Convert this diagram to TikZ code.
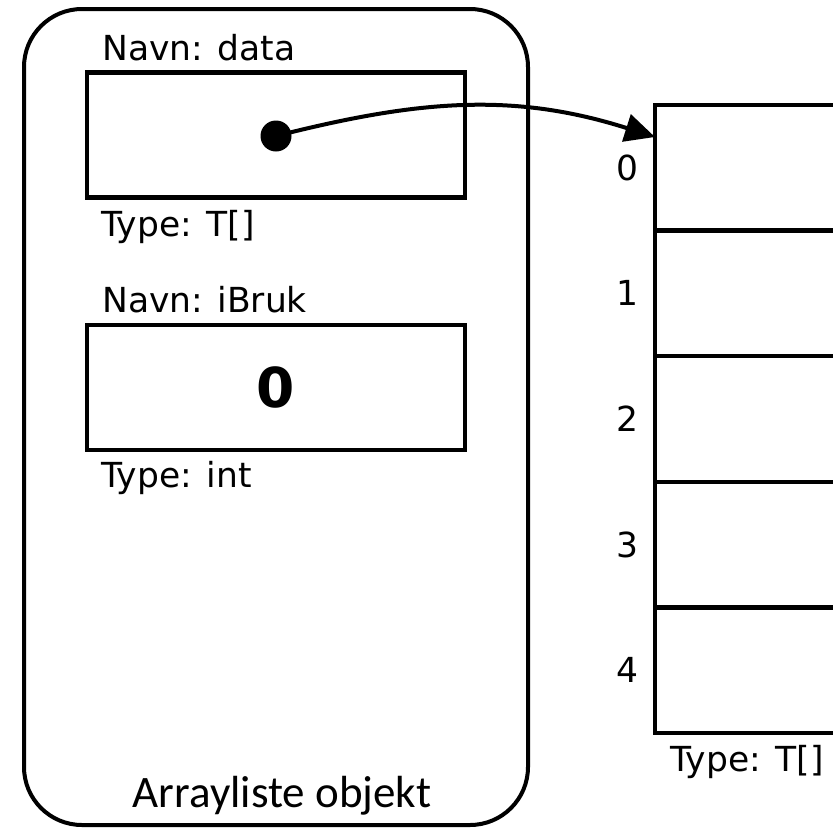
\documentclass[tikz,border=0pt]{standalone}
\usepackage{fontspec}
\setmainfont{DejaVu Sans}
\newfontfamily\captionfont{Carlito}
\usetikzlibrary{arrows.meta,calc}
\begin{document}
\begin{tikzpicture}[x=1pt,y=-1pt,
  lbl/.style={font=\fontsize{34.5}{40}\selectfont, inner sep=0pt},
  field/.style={draw, line width=4.5pt, minimum width=378pt, minimum height=125pt, inner sep=0pt},
  cell/.style={draw, line width=4.5pt, minimum width=260pt, minimum height=125.6pt, inner sep=0pt, outer sep=0pt, anchor=north west},
  container/.style={draw, line width=4pt, rounded corners=58pt, minimum width=504pt, minimum height=816pt, inner sep=0pt},
  pointer/.style={line width=4pt, -{Triangle[length=30pt,width=28pt]}}]
\useasboundingbox (0,0) rectangle (833,828);
\clip (0,0) rectangle (833,828);

% the ArrayList object
\node[container] (obj) at (276,417) {};
\node[anchor=base, inner sep=0pt, font=\captionfont\fontsize{45}{52}\selectfont] (objname) at (282,807) {Arrayliste objekt};

% field: data
\node[lbl, anchor=base west] (dataname) at (102,60) {Navn: data};
\node[field] (data) at (276,135) {};
\node[lbl, anchor=base west] (datatype) at (101,236) {Type: T[]};
\node[circle, fill, inner sep=0pt, minimum size=31pt] (dot) at (276,136) {};

% field: iBruk
\node[lbl, anchor=base west] (brukname) at (102,312) {Navn: iBruk};
\node[field, font=\bfseries\fontsize{55}{60}\selectfont] (bruk) at (276,387.5) {0};
\node[lbl, anchor=base west] (bruktype) at (101,487) {Type: int};

% the array T[]
\node[cell] (cell0) at (655,105) {};
\node[cell] (cell1) at (cell0.south west) {};
\node[cell] (cell2) at (cell1.south west) {};
\node[cell] (cell3) at (cell2.south west) {};
\node[cell] (cell4) at (cell3.south west) {};
\foreach \i in {0,...,4}
  \node[lbl] (idx\i) at ($(cell\i.west)+(-28,0)$) {\i};
\node[lbl, anchor=base west] (arrtype) at (670,771) {Type: T[]};

% reference from data to the array
\coordinate (tgt) at ($(cell0.north west)+(0,32)$);
\draw[pointer] (dot.center) .. controls (418,100) and (513,92) .. (tgt);
\end{tikzpicture}
\end{document}
